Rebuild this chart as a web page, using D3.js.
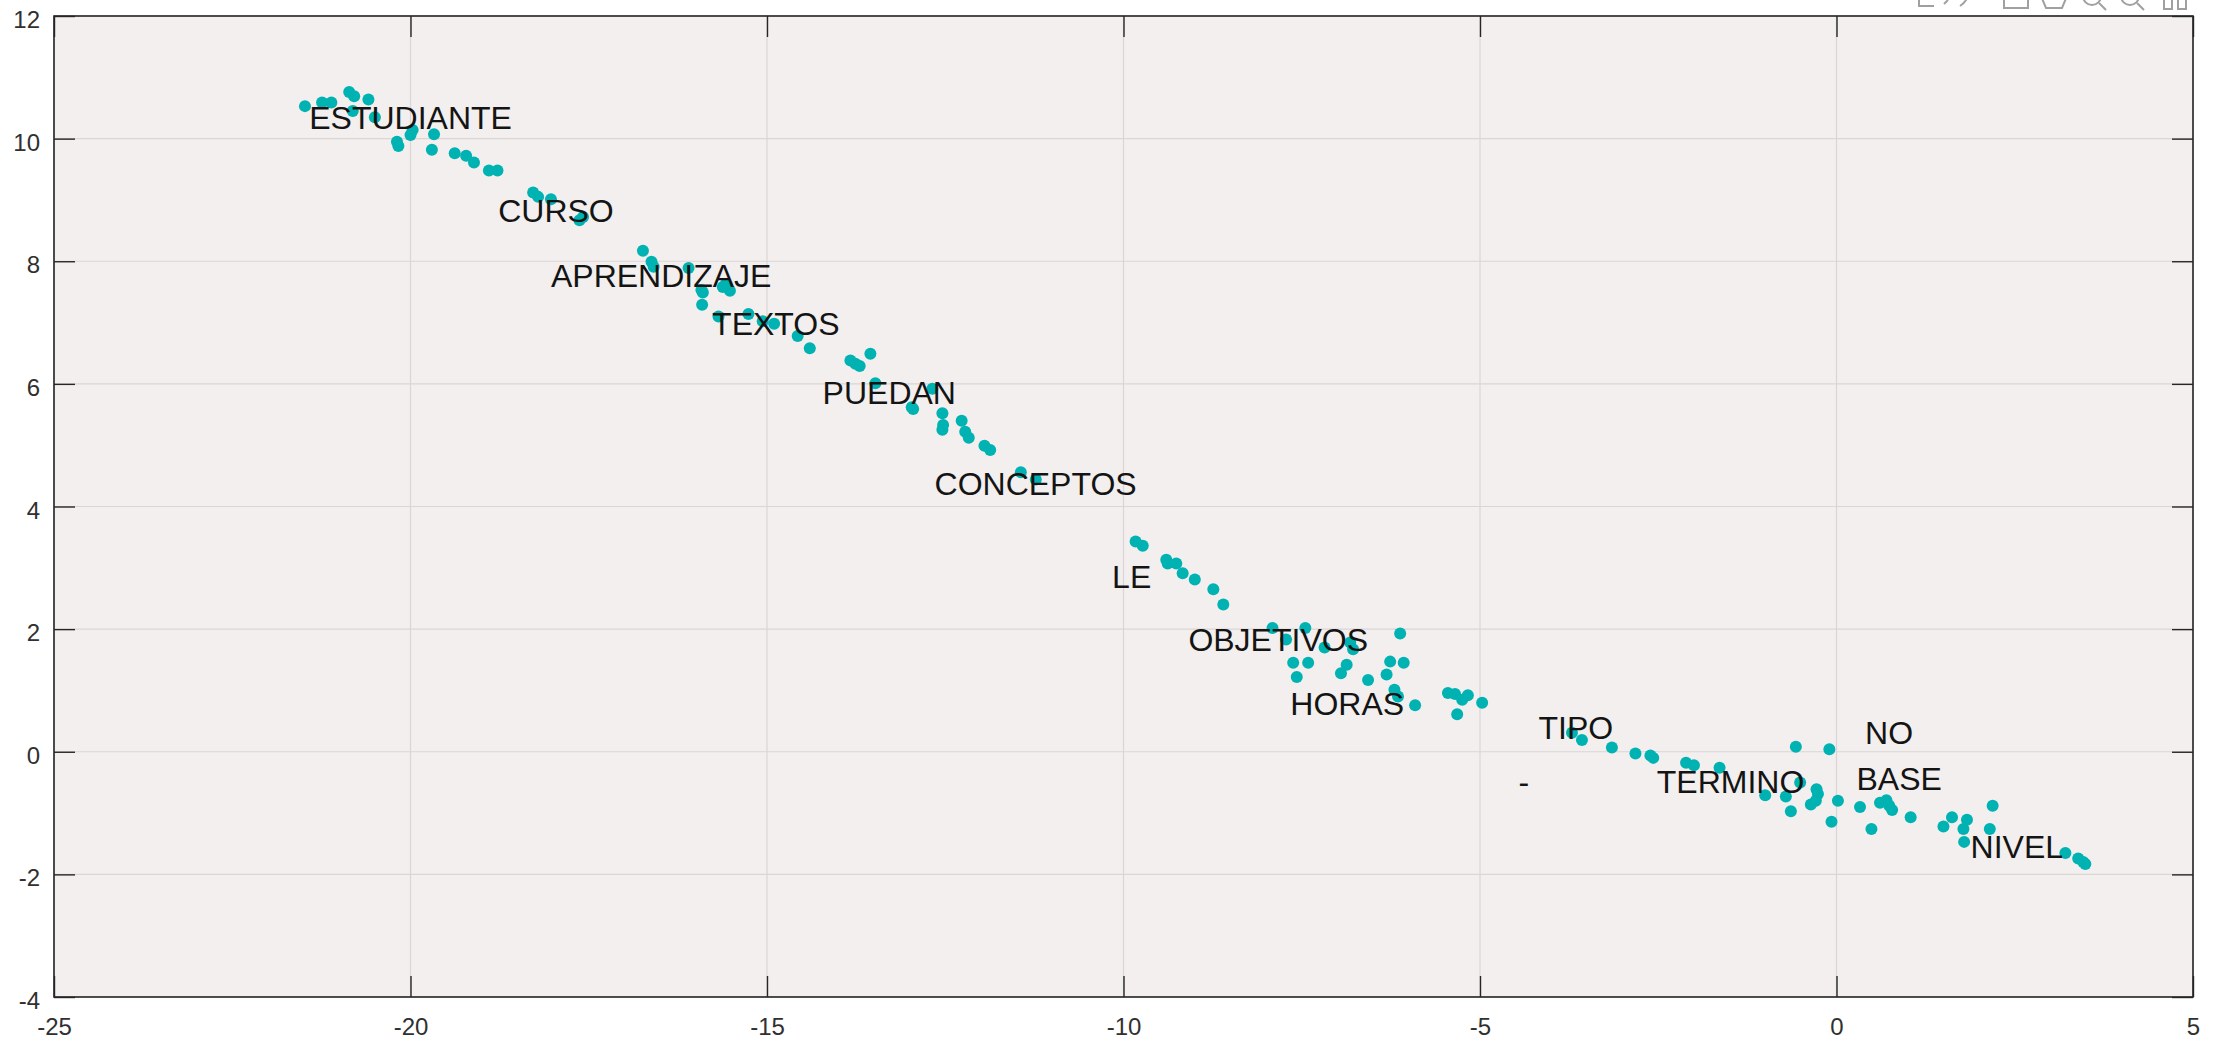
<!DOCTYPE html>
<html>
<head>
<meta charset="utf-8">
<script src="https://cdn.jsdelivr.net/npm/d3@7"></script>
<style>
  html, body { margin: 0; padding: 0; background: #ffffff; }
  svg { display: block; }
</style>
</head>
<body>
<script>
// Word embedding projection: point coordinates
const pointX = [
  -21.48, -21.24, -21.11, -20.86, -20.79, -20.59, -20.81, -20.50, -19.97, -20.00,
  -19.67, -20.19, -20.17, -19.70, -19.38, -19.22, -19.11, -18.90, -18.78, -18.28,
  -18.21, -18.03, -17.63, -17.58, -16.74, -16.62, -16.59, -16.10, -15.92, -15.90,
  -15.91, -15.62, -15.52, -15.58, -15.68, -15.26, -15.06, -14.90, -14.57, -14.40,
  -13.83, -13.76, -13.70, -13.55, -13.48, -12.68, -12.97, -12.95, -12.54, -12.54,
  -12.53, -12.27, -12.22, -12.17, -11.95, -11.87, -11.44, -11.23, -9.83, -9.73,
  -9.40, -9.38, -9.26, -9.17, -9.00, -8.74, -8.60, -7.91, -7.72, -7.45,
  -7.18, -6.78, -6.82, -7.62, -7.41, -7.57, -6.87, -6.95, -6.57, -6.31,
  -6.26, -6.07, -6.12, -6.20, -6.15, -5.91, -5.45, -5.35, -5.25, -5.17,
  -5.32, -4.97, -3.71, -3.57, -3.15, -2.82, -2.61, -2.57, -2.11, -2.00,
  -1.64, -0.57, -0.10, -0.51, -0.28, -0.26, -0.29, -0.36, -1.00, -0.71,
  -0.64, 0.02, -0.07, 0.33, 0.61, 0.70, 0.74, 0.78, 0.49, 1.04,
  1.50, 1.62, 1.83, 1.78, 1.79, 2.15, 2.19, 3.21, 3.39, 3.49,
  3.46
];
const pointY = [
  10.53, 10.59, 10.59, 10.76, 10.69, 10.64, 10.45, 10.35, 10.14, 10.06,
  10.07, 9.95, 9.88, 9.82, 9.76, 9.72, 9.61, 9.48, 9.48, 9.12,
  9.05, 9.01, 8.67, 8.72, 8.17, 7.99, 7.91, 7.89, 7.53, 7.49,
  7.29, 7.58, 7.52, 7.62, 7.10, 7.14, 7.02, 6.98, 6.78, 6.58,
  6.38, 6.33, 6.29, 6.49, 6.01, 5.92, 5.62, 5.59, 5.52, 5.25,
  5.33, 5.40, 5.22, 5.12, 4.99, 4.92, 4.56, 4.44, 3.43, 3.36,
  3.13, 3.07, 3.07, 2.91, 2.81, 2.65, 2.40, 2.02, 1.83, 2.02,
  1.70, 1.67, 1.78, 1.45, 1.45, 1.22, 1.42, 1.28, 1.17, 1.26,
  1.47, 1.45, 1.93, 1.01, 0.90, 0.76, 0.96, 0.94, 0.85, 0.92,
  0.61, 0.80, 0.31, 0.19, 0.07, -0.03, -0.06, -0.10, -0.18, -0.22,
  -0.26, 0.08, 0.04, -0.50, -0.61, -0.69, -0.80, -0.86, -0.71, -0.73,
  -0.97, -0.80, -1.14, -0.90, -0.83, -0.79, -0.88, -0.95, -1.26, -1.07,
  -1.22, -1.07, -1.11, -1.26, -1.47, -1.26, -0.88, -1.65, -1.74, -1.83,
  -1.80
];

// Annotated words and their anchor coordinates
const words = ["ESTUDIANTE", "CURSO", "APRENDIZAJE", "TEXTOS", "PUEDAN", "CONCEPTOS",
               "LE", "OBJETIVOS", "HORAS", "TIPO", "-", "TERMINO", "NO", "BASE", "NIVEL"];
const wordX = [-21.42, -18.77, -18.03, -15.77, -14.22, -12.65,
               -10.16, -9.09, -7.66, -4.18, -4.46, -2.52, 0.40, 0.28, 1.88];
const wordY = [10.34, 8.82, 7.77, 6.98, 5.86, 4.38,
               2.86, 1.83, 0.78, 0.39, -0.49, -0.49, 0.31, -0.43, -1.54];

// Axis ticks
const xTicks = [-25, -20, -15, -10, -5, 0, 5];
const yTicks = [-4, -2, 0, 2, 4, 6, 8, 10, 12];

const W = 2226, H = 1043;
const plot = { left: 54, right: 2193, top: 16, bottom: 997 };
const tickLen = 21;
const axisColor = "#262626";
const fontFamily = "'Liberation Sans', Arial, Helvetica, sans-serif";
const tickFmt = d => String(d);   // plain hyphen-minus for negatives

const svg = d3.select("body").append("svg")
  .attr("width", W).attr("height", H);

svg.append("rect").attr("width", W).attr("height", H).attr("fill", "#ffffff");

const x = d3.scaleLinear().domain([-25, 5]).range([plot.left, plot.right]);
const y = d3.scaleLinear().domain([-4, 12]).range([plot.bottom, plot.top]);

// plot background
svg.append("rect")
  .attr("x", plot.left).attr("y", plot.top)
  .attr("width", plot.right - plot.left).attr("height", plot.bottom - plot.top)
  .attr("fill", "#f2efee");

// grid
const grid = svg.append("g").attr("stroke", "#d9d6d5").attr("stroke-width", 1.2);
grid.selectAll("line.vx").data(xTicks).join("line")
  .attr("x1", d => x(d)).attr("x2", d => x(d))
  .attr("y1", plot.top).attr("y2", plot.bottom);
grid.selectAll("line.hy").data(yTicks).join("line")
  .attr("y1", d => y(d)).attr("y2", d => y(d))
  .attr("x1", plot.left).attr("x2", plot.right);

// axes with inward ticks on all four sides
function styleAxis(g) {
  g.select(".domain").remove();
  g.selectAll(".tick line").attr("stroke", axisColor).attr("stroke-width", 1.4);
  g.selectAll(".tick text")
    .attr("fill", "#303030")
    .style("font-family", fontFamily)
    .style("font-size", "24px");
}

svg.append("g")
  .attr("transform", `translate(0,${plot.bottom})`)
  .call(d3.axisBottom(x).tickValues(xTicks).tickSizeInner(-tickLen).tickSizeOuter(0)
        .tickPadding(21).tickFormat(tickFmt))
  .call(styleAxis);

svg.append("g")
  .attr("transform", `translate(${plot.left},0)`)
  .call(d3.axisLeft(y).tickValues(yTicks).tickSizeInner(-tickLen).tickSizeOuter(0)
        .tickPadding(14).tickFormat(tickFmt))
  .call(styleAxis)
  .call(g => g.selectAll(".tick text").attr("dy", "0.48em"));

svg.append("g")
  .attr("transform", `translate(0,${plot.top})`)
  .call(d3.axisTop(x).tickValues(xTicks).tickSizeInner(-tickLen).tickSizeOuter(0).tickFormat(""))
  .call(styleAxis);

svg.append("g")
  .attr("transform", `translate(${plot.right},0)`)
  .call(d3.axisRight(y).tickValues(yTicks).tickSizeInner(-tickLen).tickSizeOuter(0).tickFormat(""))
  .call(styleAxis);

// box
svg.append("rect")
  .attr("x", plot.left).attr("y", plot.top)
  .attr("width", plot.right - plot.left).attr("height", plot.bottom - plot.top)
  .attr("fill", "none").attr("stroke", axisColor).attr("stroke-width", 1.6);

// points
const points = pointX.map((px, i) => ({ x: px, y: pointY[i] }));
svg.append("g")
  .selectAll("circle").data(points).join("circle")
  .attr("cx", d => x(d.x)).attr("cy", d => y(d.y))
  .attr("r", 6)
  .attr("fill", "#00b2b2");

// word labels (left aligned, vertically centred on the anchor)
const labels = words.map((w, i) => ({ text: w, x: wordX[i], y: wordY[i] }));
svg.append("g")
  .selectAll("text").data(labels).join("text")
  .attr("x", d => x(d.x)).attr("y", d => y(d.y))
  .attr("dy", "0.36em")
  .attr("fill", "#141414")
  .style("font-family", fontFamily)
  .style("font-size", "32px")
  .text(d => d.text);

// axes toolbar glyphs peeking at the top edge
const tb = svg.append("g").attr("fill", "none").attr("stroke", "#a0a0a0").attr("stroke-width", 2);
tb.append("path").attr("d", "M1919,-4 V6 H1934 M1944,4 L1948,0 M1960,6 Q1966,2 1968,-4");
tb.append("path").attr("d", "M2004,-4 V8 H2028 V-4");
tb.append("path").attr("d", "M2041,-4 L2046,8 H2062 L2067,-4");
tb.append("circle").attr("cx", 2092).attr("cy", -4).attr("r", 9);
tb.append("path").attr("d", "M2099,3 L2106,10");
tb.append("circle").attr("cx", 2130).attr("cy", -4).attr("r", 9);
tb.append("path").attr("d", "M2137,3 L2144,10");
tb.append("path").attr("d", "M2164,-4 V9 H2172 V-4 M2178,-4 V9 H2186 V-4");
</script>
</body>
</html>
